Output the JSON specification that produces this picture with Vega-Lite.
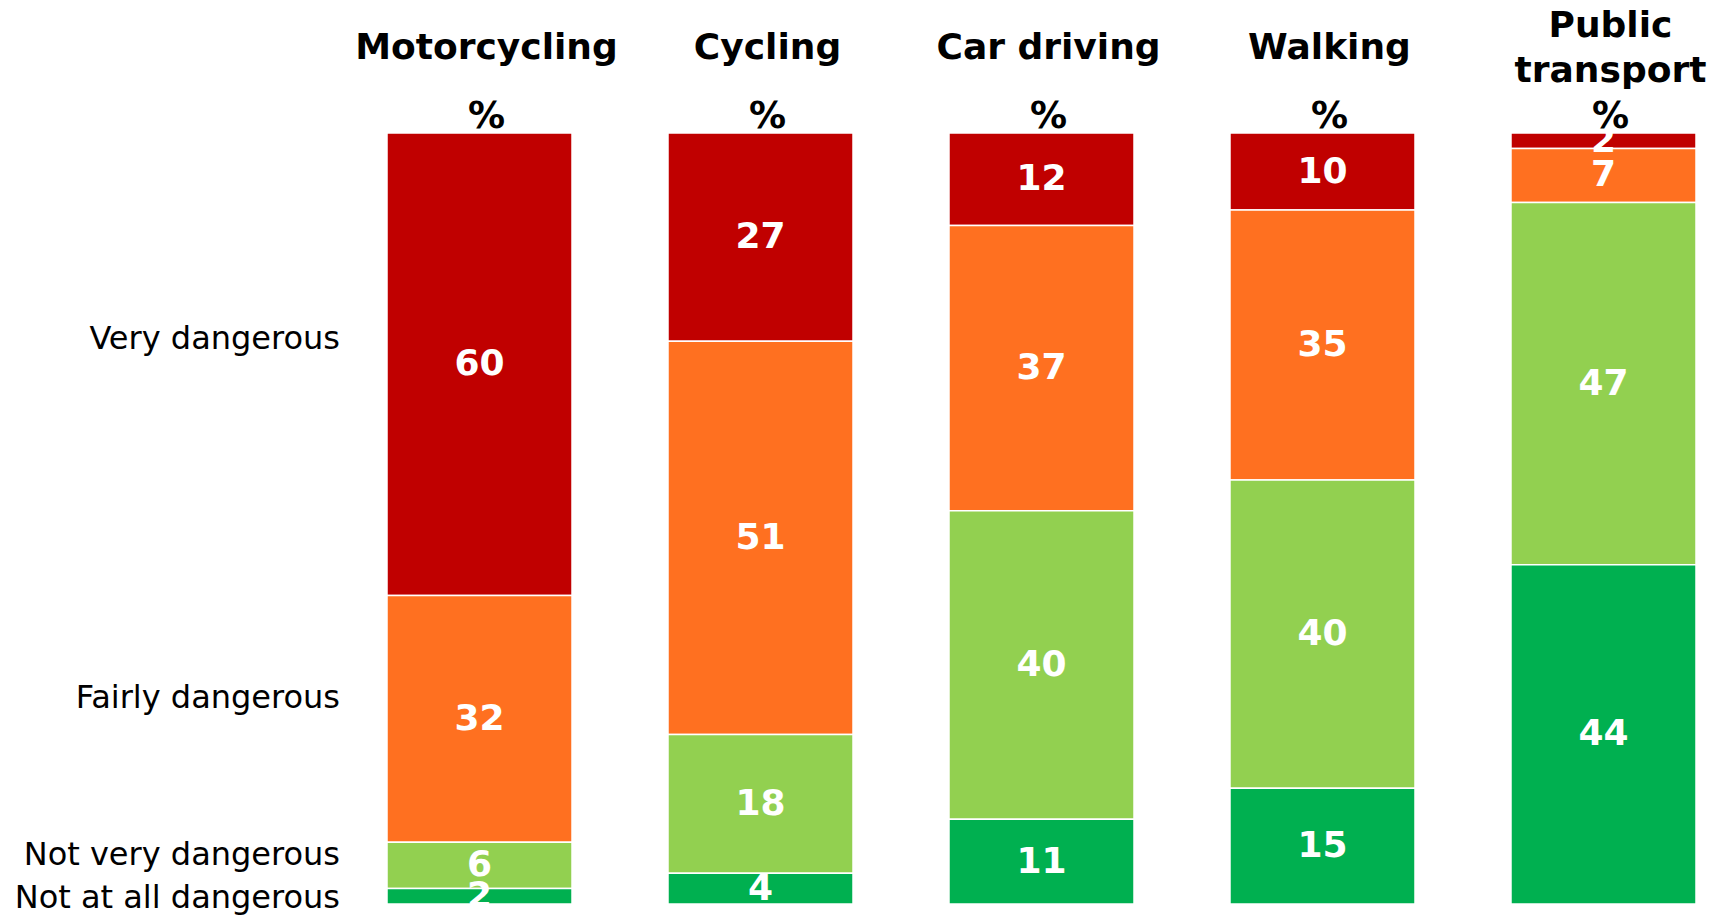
{
  "$schema": "https://vega.github.io/schema/vega-lite/v6.json",
  "autosize": {"type": "none"},
  "padding": {"left": 387, "top": 133, "right": 23, "bottom": 11},
  "width": 1309,
  "height": 771,
  "background": "white",
  "config": {
    "view": {"stroke": null},
    "font": "DejaVu Sans",
    "axisX": {
      "domain": false, "ticks": false, "grid": false,
      "labelAngle": 0, "labelBaseline": "middle",
      "labelFont": "DejaVu Sans", "labelFontSize": 36, "labelFontWeight": "bold",
      "labelColor": "black", "labelLineHeight": 45, "labelOffset": 7,
      "labelLimit": 500, "labelOverlap": false, "labelBound": false, "labelFlush": false,
      "labelExpr": "datum.label === 'Public transport' ? ['Public', 'transport'] : datum.label"
    }
  },
  "datasets": {
    "shares": [
      {"mode": "Motorcycling", "level": "Very dangerous", "rank": 1, "value": 60},
      {"mode": "Motorcycling", "level": "Fairly dangerous", "rank": 2, "value": 32},
      {"mode": "Motorcycling", "level": "Not very dangerous", "rank": 3, "value": 6},
      {"mode": "Motorcycling", "level": "Not at all dangerous", "rank": 4, "value": 2},
      {"mode": "Cycling", "level": "Very dangerous", "rank": 1, "value": 27},
      {"mode": "Cycling", "level": "Fairly dangerous", "rank": 2, "value": 51},
      {"mode": "Cycling", "level": "Not very dangerous", "rank": 3, "value": 18},
      {"mode": "Cycling", "level": "Not at all dangerous", "rank": 4, "value": 4},
      {"mode": "Car driving", "level": "Very dangerous", "rank": 1, "value": 12},
      {"mode": "Car driving", "level": "Fairly dangerous", "rank": 2, "value": 37},
      {"mode": "Car driving", "level": "Not very dangerous", "rank": 3, "value": 40},
      {"mode": "Car driving", "level": "Not at all dangerous", "rank": 4, "value": 11},
      {"mode": "Walking", "level": "Very dangerous", "rank": 1, "value": 10},
      {"mode": "Walking", "level": "Fairly dangerous", "rank": 2, "value": 35},
      {"mode": "Walking", "level": "Not very dangerous", "rank": 3, "value": 40},
      {"mode": "Walking", "level": "Not at all dangerous", "rank": 4, "value": 15},
      {"mode": "Public transport", "level": "Very dangerous", "rank": 1, "value": 2},
      {"mode": "Public transport", "level": "Fairly dangerous", "rank": 2, "value": 7},
      {"mode": "Public transport", "level": "Not very dangerous", "rank": 3, "value": 47},
      {"mode": "Public transport", "level": "Not at all dangerous", "rank": 4, "value": 44}
    ],
    "levels": [
      {"level": "Very dangerous", "pos": 26.7},
      {"level": "Fairly dangerous", "pos": 73.3},
      {"level": "Not very dangerous", "pos": 93.7},
      {"level": "Not at all dangerous", "pos": 99.2}
    ]
  },
  "layer": [
    {
      "data": {"name": "shares"},
      "mark": {"type": "bar", "stroke": "white", "strokeWidth": 1.5},
      "encoding": {
        "x": {
          "field": "mode", "type": "nominal", "title": null,
          "sort": ["Motorcycling", "Cycling", "Car driving", "Walking", "Public transport"],
          "scale": {"paddingInner": 0.3416, "paddingOuter": 0},
          "axis": {"orient": "top", "labelPadding": {"condition": {"test": "datum.value === 'Public transport'", "value": 108}, "value": 86}}
        },
        "y": {
          "field": "value", "type": "quantitative", "stack": "zero",
          "scale": {"domain": [0, 100], "reverse": true, "nice": false},
          "axis": null
        },
        "color": {
          "field": "level", "type": "nominal",
          "scale": {
            "domain": ["Very dangerous", "Fairly dangerous", "Not very dangerous", "Not at all dangerous"],
            "range": ["#C00000", "#FF7020", "#92D050", "#00B050"]
          },
          "legend": null
        },
        "order": {"field": "rank", "type": "quantitative"}
      }
    },
    {
      "data": {"name": "shares"},
      "transform": [
        {"stack": "value", "groupby": ["mode"], "sort": [{"field": "rank", "order": "ascending"}], "as": ["v0", "v1"]},
        {"calculate": "(datum.v0 + datum.v1) / 2", "as": "mid"}
      ],
      "mark": {"type": "text", "color": "white", "fontWeight": "bold", "fontSize": 36, "baseline": "middle", "align": "center", "font": "DejaVu Sans"},
      "encoding": {
        "x": {"field": "mode", "type": "nominal", "title": null, "sort": ["Motorcycling", "Cycling", "Car driving", "Walking", "Public transport"], "axis": {"orient": "top", "labelPadding": {"condition": {"test": "datum.value === 'Public transport'", "value": 108}, "value": 86}}},
        "y": {"field": "mid", "type": "quantitative", "axis": null},
        "text": {"field": "value", "type": "quantitative"}
      }
    },
    {
      "data": {"name": "shares"},
      "transform": [{"filter": "datum.rank === 1"}],
      "mark": {"type": "text", "text": "%", "color": "black", "fontWeight": "bold", "fontSize": 37, "baseline": "alphabetic", "align": "center", "dy": -5, "dx": 7, "font": "DejaVu Sans"},
      "encoding": {
        "x": {"field": "mode", "type": "nominal", "title": null, "sort": ["Motorcycling", "Cycling", "Car driving", "Walking", "Public transport"], "axis": {"orient": "top", "labelPadding": {"condition": {"test": "datum.value === 'Public transport'", "value": 108}, "value": 86}}},
        "y": {"datum": 0, "type": "quantitative", "axis": null}
      }
    },
    {
      "data": {"name": "levels"},
      "mark": {"type": "text", "color": "black", "fontSize": 32, "baseline": "middle", "align": "right", "dx": -47, "font": "DejaVu Sans"},
      "encoding": {
        "x": {"datum": "Motorcycling", "type": "nominal", "title": null, "bandPosition": 0, "axis": {"orient": "top", "labelPadding": {"condition": {"test": "datum.value === 'Public transport'", "value": 108}, "value": 86}}},
        "y": {"field": "pos", "type": "quantitative", "axis": null},
        "text": {"field": "level", "type": "nominal"}
      }
    }
  ]
}
